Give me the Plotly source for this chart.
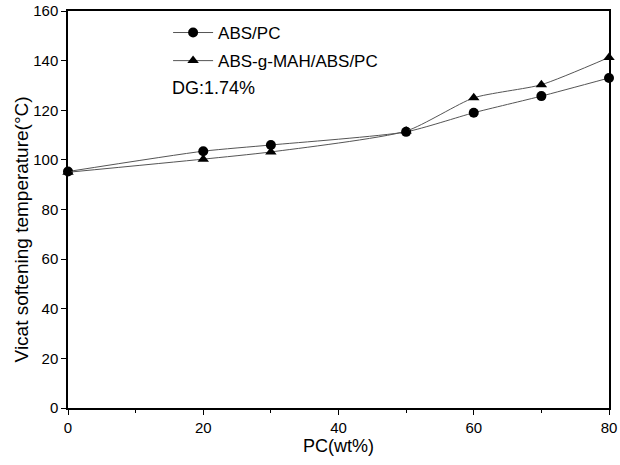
import plotly.graph_objects as go

pc = [0, 20, 30, 50, 60, 70, 80]
abs_pc = [95.3, 103.5, 106.0, 111.3, 119.0, 125.7, 133.0]
abs_g_mah = [95.0, 100.3, 103.2, 111.6, 125.0, 130.3, 141.3]

series_names = ["ABS/PC", "ABS-g-MAH/ABS/PC"]
note_text = "DG:1.74%"
x_title = "PC(wt%)"
y_title = "Vicat softening temperature(°C)"
x_ticks = [0, 20, 40, 60, 80]
y_ticks = [0, 20, 40, 60, 80, 100, 120, 140, 160]

FONT = "Liberation Sans, Arial, sans-serif"

fig = go.Figure()
fig.add_trace(go.Scatter(
    x=pc, y=abs_pc, name=series_names[0], mode="lines+markers",
    line=dict(color="#555555", width=1, shape="spline", smoothing=0.6),
    marker=dict(symbol="circle", size=10, color="black"),
    cliponaxis=False, legendgroup="a"))
fig.add_trace(go.Scatter(
    x=pc, y=abs_g_mah, name=series_names[1], mode="lines+markers",
    line=dict(color="#555555", width=1, shape="spline", smoothing=0.6),
    marker=dict(symbol="triangle-up", size=10, color="black"),
    cliponaxis=False, legendgroup="b"))

fig.add_annotation(text=note_text, xref="paper", yref="paper",
                   x=0.189, y=0.806, xanchor="left", yanchor="middle",
                   showarrow=False, font=dict(family=FONT, size=18, color="black"))

# y-axis title placed close to the tick labels, as in the reference
fig.add_annotation(text=y_title, xref="paper", yref="paper",
                   x=-0.086, y=0.451, xanchor="center", yanchor="middle",
                   textangle=-90, showarrow=False,
                   font=dict(family=FONT, size=19, color="black"))

axis_common = dict(showline=True, linecolor="black", linewidth=1.5, mirror=True,
                   ticks="outside", ticklen=5, tickcolor="black", showgrid=False,
                   zeroline=False, automargin=False, ticklabeloverflow="allow",
                   tickfont=dict(family=FONT, size=15, color="black"))

fig.update_xaxes(range=[0, 80], tickvals=x_ticks,
                 minor=dict(ticks="outside", ticklen=3, dtick=10, tickcolor="black"),
                 title=dict(text=x_title, font=dict(family=FONT, size=18, color="black"), standoff=2),
                 **axis_common)
fig.update_yaxes(range=[0, 160], tickvals=y_ticks, **axis_common)

fig.update_layout(
    width=620, height=465,
    margin=dict(l=68, r=11, t=11, b=57),
    plot_bgcolor="white", paper_bgcolor="white",
    showlegend=True,
    legend=dict(x=0.185, y=0.99, xanchor="left", yanchor="top",
                bgcolor="rgba(0,0,0,0)", tracegroupgap=3, itemwidth=40,
                font=dict(family=FONT, size=17, color="black")),
)

fig.write_html("out.html", config={"displayModeBar": False},
               post_script="document.body.style.margin='0';document.body.style.overflow='hidden';")
